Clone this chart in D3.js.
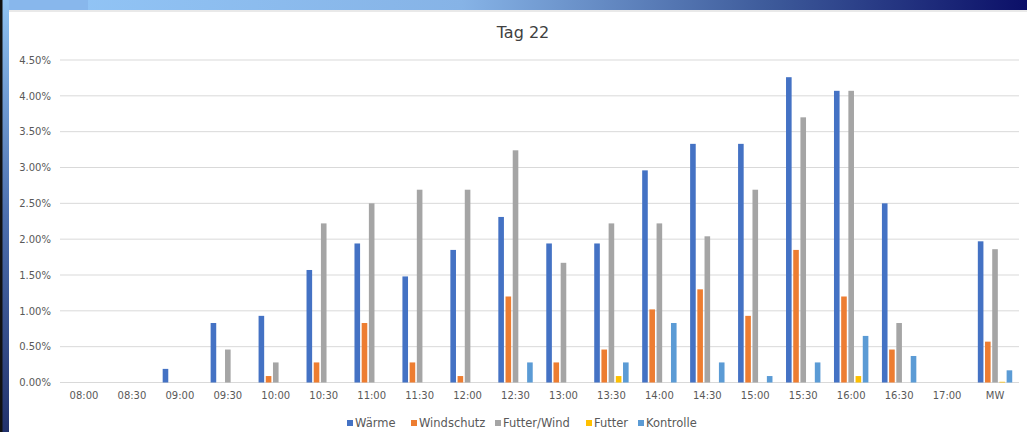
<!DOCTYPE html>
<html><head><meta charset="utf-8">
<script src="https://cdn.jsdelivr.net/npm/d3@7"></script>
<style>
html,body{margin:0;padding:0;background:#fff;}
svg{display:block;}
</style></head>
<body>
<svg id="c" width="1027" height="432"></svg>
<script>
const categories = ["08:00","08:30","09:00","09:30","10:00","10:30","11:00","11:30","12:00","12:30","13:00","13:30","14:00","14:30","15:00","15:30","16:00","16:30","17:00","MW"];
const seriesNames = ["Wärme","Windschutz","Futter/Wind","Futter","Kontrolle"];
const seriesColors = ["#4472C4","#ED7D31","#A5A5A5","#FFC000","#5B9BD5"];
const waerme     = [0,0,0.19,0.83,0.93,1.57,1.94,1.48,1.85,2.31,1.94,1.94,2.96,3.33,3.33,4.26,4.07,2.50,0,1.97];
const windschutz = [0,0,0,0,0.09,0.28,0.83,0.28,0.09,1.20,0.28,0.46,1.02,1.30,0.93,1.85,1.20,0.46,0,0.57];
const futterWind = [0,0,0,0.46,0.28,2.22,2.50,2.69,2.69,3.24,1.67,2.22,2.22,2.04,2.69,3.70,4.07,0.83,0,1.86];
const futter     = [0,0,0,0,0,0,0,0,0,0,0,0.09,0,0,0,0,0.09,0,0,0.01];
const kontrolle  = [0,0,0,0,0,0,0,0,0,0.28,0,0.28,0.83,0.28,0.09,0.28,0.65,0.37,0,0.17];
const yTicks = [0,0.5,1,1.5,2,2.5,3,3.5,4,4.5];
const title = "Tag 22";

const seriesValues = [waerme, windschutz, futterWind, futter, kontrolle];
const FONT = "'DejaVu Sans', sans-serif";

const svg = d3.select("#c");
const defs = svg.append("defs");
const gTop = defs.append("linearGradient").attr("id","gtop").attr("x1","0").attr("x2","1").attr("y1","0").attr("y2","0");
gTop.append("stop").attr("offset","0").attr("stop-color","#93c7f8");
gTop.append("stop").attr("offset","0.45").attr("stop-color","#86b3e6");
gTop.append("stop").attr("offset","0.75").attr("stop-color","#3d5a9a");
gTop.append("stop").attr("offset","1").attr("stop-color","#0b0f68");
const gLeft = defs.append("linearGradient").attr("id","gleft").attr("x1","0").attr("x2","0").attr("y1","0").attr("y2","1");
gLeft.append("stop").attr("offset","0").attr("stop-color","#8fc2f2");
gLeft.append("stop").attr("offset","0.5").attr("stop-color","#4c6fae");
gLeft.append("stop").attr("offset","1").attr("stop-color","#22326c");

// frame
svg.append("rect").attr("x",0).attr("y",0).attr("width",1027).attr("height",432).attr("fill","#fff");
svg.append("rect").attr("x",0).attr("y",0).attr("width",1027).attr("height",10).attr("fill","url(#gtop)");
svg.append("rect").attr("x",0).attr("y",0).attr("width",88).attr("height",10).attr("fill","#88b7ec");
svg.append("rect").attr("x",0).attr("y",0).attr("width",9).attr("height",432).attr("fill","url(#gleft)");
svg.append("rect").attr("x",0).attr("y",0).attr("width",2.5).attr("height",432).attr("fill","#111");
svg.append("line").attr("x1",9).attr("x2",1027).attr("y1",11).attr("y2",11).attr("stroke","#e2e2e2").attr("stroke-width",1.5);

const x = d3.scaleBand().domain(categories).range([60,1019]).paddingInner(0).paddingOuter(0);
const xi = d3.scaleBand().domain(seriesNames).range([-17.2,17.2]).paddingInner(0.222).paddingOuter(0);
const y = d3.scaleLinear().domain([0,4.5]).range([382.5,60]);

// gridlines
svg.append("g").selectAll("line").data(yTicks).join("line")
  .attr("x1",60).attr("x2",1019)
  .attr("y1",d=>y(d)).attr("y2",d=>y(d))
  .attr("stroke","#d9d9d9").attr("stroke-width",1);

// y axis labels
const yAxis = d3.axisLeft(y).tickValues(yTicks).tickSize(0).tickPadding(0)
  .tickFormat(d=>d3.format(".2f")(d)+"%");
const ya = svg.append("g").attr("transform","translate(51,0)").call(yAxis);
ya.select(".domain").remove();
ya.selectAll("text").attr("font-family",FONT).attr("font-size",10).attr("fill","#595959");

// x axis labels
const xAxis = d3.axisBottom(x).tickSize(0).tickPadding(0);
const xa = svg.append("g").attr("transform","translate(0,392)").call(xAxis);
xa.select(".domain").remove();
xa.selectAll("text").attr("font-family",FONT).attr("font-size",10).attr("fill","#595959");

// bars
seriesNames.forEach((name,si)=>{
  svg.append("g").selectAll("rect").data(seriesValues[si].map((v,i)=>({c:categories[i],v}))).join("rect")
    .attr("x",d=>x(d.c)+x.bandwidth()/2+xi(name))
    .attr("width",xi.bandwidth())
    .attr("y",d=>y(d.v))
    .attr("height",d=>y(0)-y(d.v))
    .attr("fill",seriesColors[si]);
});

// title
svg.append("text").attr("x",523).attr("y",38).attr("text-anchor","middle")
  .attr("font-family",FONT).attr("font-size",16).attr("fill","#404040").text(title);

// legend
const legendX = [347,411,495,586,638];
const lg = svg.append("g");
seriesNames.forEach((name,i)=>{
  lg.append("rect").attr("x",legendX[i]).attr("y",420).attr("width",6).attr("height",6).attr("fill",seriesColors[i]);
  lg.append("text").attr("x",legendX[i]+8).attr("y",427).attr("font-family",FONT).attr("font-size",11.5)
    .attr("fill","#595959").text(name);
});
</script>
</body></html>
